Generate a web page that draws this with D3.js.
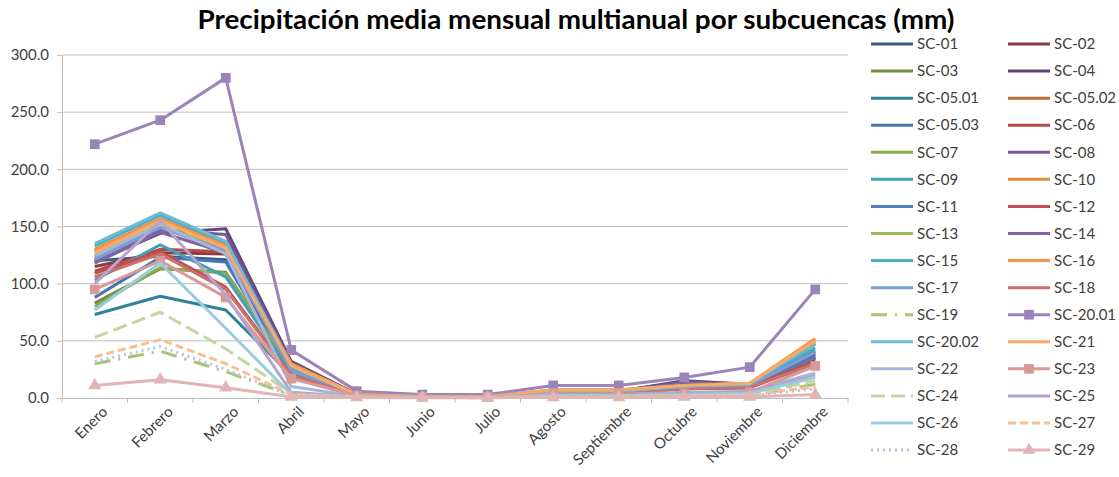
<!DOCTYPE html>
<html>
<head>
<meta charset="utf-8">
<script src="https://d3js.org/d3.v7.min.js"></script>
<style>
  body { margin: 0; background: #fff; }
  text { font-family: Lato, "Open Sans", sans-serif; fill: #404040; }
</style>
</head>
<body>
<script>
// meses del eje X
const meses = ["Enero", "Febrero", "Marzo", "Abril", "Mayo", "Junio", "Julio",
  "Agosto", "Septiembre", "Octubre", "Noviembre", "Diciembre"];

const subcuencas = ["SC-01", "SC-02", "SC-03", "SC-04", "SC-05.01", "SC-05.02",
  "SC-05.03", "SC-06", "SC-07", "SC-08", "SC-09", "SC-10",
  "SC-11", "SC-12", "SC-13", "SC-14", "SC-15", "SC-16",
  "SC-17", "SC-18", "SC-19", "SC-20.01", "SC-20.02", "SC-21",
  "SC-22", "SC-23", "SC-24", "SC-25", "SC-26", "SC-27",
  "SC-28", "SC-29"];

// precipitacion media mensual (mm), una fila por subcuenca
const precipitacion = [
  [120, 124, 121, 24, 2.5, 1.2, 1.0, 4.5, 4.5, 8, 10, 35],
  [115, 127, 126, 22, 2.4, 1.1, 1.0, 5, 5, 9, 10, 33],
  [83, 113, 110, 26, 2.6, 1.2, 1.0, 5, 5, 13, 11, 31],
  [119, 144, 148, 32, 3.5, 1.5, 1.2, 6, 6, 15, 12, 38],
  [73, 89, 77, 20, 2.2, 1.0, 0.9, 4, 4, 8, 9, 30],
  [128, 155, 132, 28, 3.2, 1.6, 1.3, 7, 7, 11, 12, 50],
  [88, 123, 119, 22, 2.3, 1.1, 1.0, 5, 5, 8, 9, 35],
  [111, 130, 128, 24, 2.5, 1.2, 1.0, 6, 6, 9, 10, 36],
  [80, 114, 109, 26, 2.4, 1.2, 1.0, 5, 5, 13, 11, 40],
  [121, 147, 143, 30, 3.2, 1.4, 1.2, 6, 6, 14, 12, 40],
  [103, 134, 106, 22, 2.3, 1.1, 1.0, 5, 5, 9, 10, 42],
  [130, 157, 134, 29, 3.1, 1.7, 1.3, 7, 7, 11, 13, 48],
  [123, 150, 128, 25, 2.5, 1.2, 1.0, 5, 5, 9, 10, 36],
  [109, 128, 97, 20, 2.2, 1.1, 1.0, 5, 5, 9, 10, 32],
  [125, 151, 130, 27, 2.6, 1.3, 1.1, 6, 6, 12, 12, 47],
  [118, 145, 127, 28, 3.0, 1.4, 1.1, 6, 6, 12, 12, 38],
  [133, 160, 136, 26, 2.5, 1.3, 1.1, 6, 6, 10, 12, 44],
  [129, 156, 133, 30, 3.1, 1.7, 1.3, 7, 7, 11, 13, 52],
  [121, 149, 129, 24, 2.4, 1.2, 1.0, 5, 5, 9, 11, 40],
  [106, 126, 95, 20, 2.2, 1.0, 0.9, 4, 4, 8, 9, 30],
  [30, 41, 23, 2.5, 0.8, 0.4, 0.3, 1, 1, 2, 2, 12],
  [222, 243, 280, 42, 6, 3, 3, 11, 11, 18, 27, 95],
  [135, 162, 137, 28, 2.6, 1.3, 1.1, 6, 6, 10, 12, 48],
  [127, 155, 131, 28, 3.0, 1.6, 1.3, 7, 7, 11, 13, 50],
  [124, 152, 126, 10, 1.5, 0.8, 0.7, 3, 3, 5, 6, 22],
  [95, 120, 88, 17, 2.0, 1.0, 0.9, 3, 3, 4, 5, 28],
  [53, 75, 43, 4, 1.0, 0.5, 0.4, 1.5, 1.5, 2.5, 3, 15],
  [100, 155, 90, 5, 1.2, 0.6, 0.5, 2, 2, 4, 5, 20],
  [77, 118, 61, 3, 1.0, 0.5, 0.4, 2, 2, 3, 4, 18],
  [36, 51, 30, 3, 0.9, 0.4, 0.3, 1.2, 1.2, 2, 2.5, 10],
  [32, 45, 25, 2, 0.8, 0.4, 0.3, 1, 1, 2, 2, 8],
  [11, 16, 9, 1, 0.5, 0.3, 0.3, 0.5, 0.5, 1, 1, 3]
];

const ticksY = [0, 50, 100, 150, 200, 250, 300];

// estilo de cada serie (colores tipo Office)
const colores = ["#395E8C", "#8D3B38", "#728C40", "#5D4879", "#2F8399", "#B76F33",
  "#4877B0", "#B34A47", "#8DAA4E", "#74599A", "#42A0B9", "#E5893C",
  "#4F81BD", "#C0504D", "#9BBB59", "#8064A2", "#4BACC6", "#F79646",
  "#7C9ED2", "#CC706E", "#A9C47A", "#9A84B8", "#6FBAD0", "#F8A96C",
  "#A6B7D8", "#D89A98", "#C3D5A0", "#B4A6CA", "#99CCDC", "#F9BE92",
  "#B7C3DF", "#E2B5B5"];
const trazos = {"SC-19": "16,8,2,8", "SC-24": "14,6", "SC-27": "8,4", "SC-28": "2,4"};
const marcas = {"SC-20.01": "square", "SC-23": "square", "SC-29": "triangle"};

const width = 1119, height = 477;
const margin = {left: 62, right: 848, top: 55, bottom: 398};

const svg = d3.select("body").append("svg")
  .attr("width", width)
  .attr("height", height);

svg.append("text")
  .attr("x", 576).attr("y", 29)
  .attr("text-anchor", "middle")
  .attr("textLength", 757).attr("lengthAdjust", "spacingAndGlyphs")
  .style("font-size", "26px").style("font-weight", "bold").style("fill", "#000")
  .text("Precipitación media mensual multianual por subcuencas (mm)");

const x = d3.scaleBand().domain(meses).range([margin.left, margin.right]);
const y = d3.scaleLinear().domain([0, 300]).range([margin.bottom, margin.top]);

// rejilla
svg.append("g").selectAll("line")
  .data(ticksY.filter(d => d > 0))
  .join("line")
  .attr("x1", margin.left).attr("x2", margin.right)
  .attr("y1", d => y(d)).attr("y2", d => y(d))
  .attr("stroke", "#BFBFBF").attr("stroke-width", 1);

const ejeY = svg.append("g")
  .attr("transform", `translate(${margin.left},0)`)
  .call(d3.axisLeft(y).tickValues(ticksY).tickFormat(d3.format(".1f")).tickSize(5).tickPadding(8));
ejeY.select(".domain").attr("stroke", "#BFBFBF");
ejeY.selectAll(".tick line").attr("stroke", "#BFBFBF");
ejeY.selectAll("text").style("font-size", "15px").style("fill", "#404040")
  .style("font-family", "Lato, 'Open Sans', sans-serif");

const ejeX = svg.append("g")
  .attr("transform", `translate(0,${margin.bottom})`)
  .call(d3.axisBottom(x).tickSize(0).tickFormat(""));
ejeX.select(".domain").attr("stroke", "#BFBFBF");
ejeX.selectAll(".tick").remove();

// marcas de division entre categorias
svg.append("g").selectAll("line")
  .data(meses.concat(["fin"]))
  .join("line")
  .attr("x1", (d, i) => margin.left + i * x.step())
  .attr("x2", (d, i) => margin.left + i * x.step())
  .attr("y1", margin.bottom).attr("y2", margin.bottom + 5)
  .attr("stroke", "#BFBFBF");

svg.append("g").selectAll("text")
  .data(meses)
  .join("text")
  .attr("transform", d => `translate(${x(d) + x.bandwidth() / 2 + 10},${margin.bottom + 11}) rotate(-45)`)
  .attr("text-anchor", "end")
  .attr("dy", "0.35em")
  .style("font-size", "15px")
  .text(d => d);

const series = subcuencas.map((n, i) => ({nombre: n, valores: precipitacion[i], color: colores[i]}));

const linea = d3.line()
  .x((d, i) => x(meses[i]) + x.bandwidth() / 2)
  .y(d => y(d));

function simbolo(nombre) {
  return d3.symbol()
    .type(marcas[nombre] === "square" ? d3.symbolSquare : d3.symbolTriangle)
    .size(marcas[nombre] === "square" ? 95 : 75);
}

const capa = svg.append("g");
series.forEach(s => {
  capa.append("path")
    .datum(s.valores)
    .attr("d", linea)
    .attr("fill", "none")
    .attr("stroke", s.color)
    .attr("stroke-width", 3)
    .attr("stroke-linejoin", "round")
    .attr("stroke-dasharray", trazos[s.nombre] || null);
  if (marcas[s.nombre]) {
    capa.append("g").selectAll("path")
      .data(s.valores)
      .join("path")
      .attr("transform", (d, i) => `translate(${x(meses[i]) + x.bandwidth() / 2},${y(d)})`)
      .attr("d", simbolo(s.nombre))
      .attr("fill", s.color);
  }
});

// leyenda en dos columnas
const leyenda = svg.append("g");
series.forEach((s, i) => {
  const col = i % 2, fila = Math.floor(i / 2);
  const lx = col === 0 ? 871 : 1008;
  const ly = 44 + fila * 27.07;
  leyenda.append("line")
    .attr("x1", lx).attr("x2", lx + 42)
    .attr("y1", ly).attr("y2", ly)
    .attr("stroke", s.color).attr("stroke-width", 3)
    .attr("stroke-dasharray", trazos[s.nombre] || null);
  if (marcas[s.nombre]) {
    leyenda.append("path")
      .attr("transform", `translate(${lx + 21},${ly})`)
      .attr("d", simbolo(s.nombre))
      .attr("fill", s.color);
  }
  leyenda.append("text")
    .attr("x", lx + 46).attr("y", ly)
    .attr("dy", "0.35em")
    .style("font-size", "15px")
    .text(s.nombre);
});
</script>
</body>
</html>
